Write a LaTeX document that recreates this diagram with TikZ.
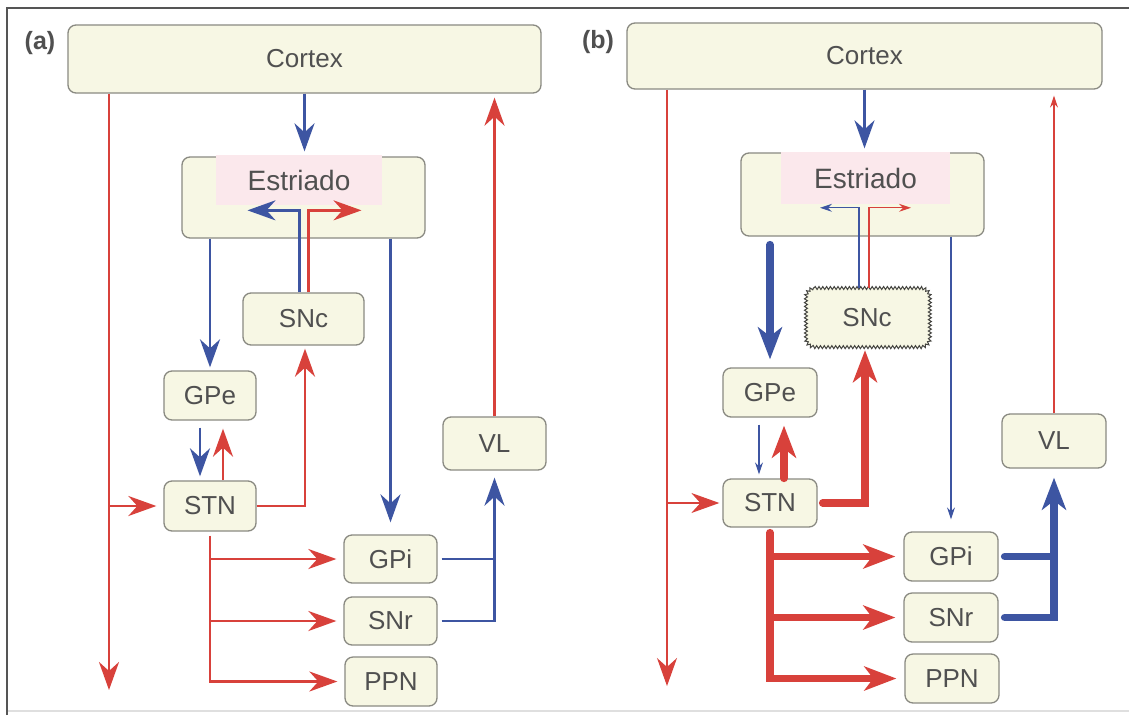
\documentclass[tikz,border=0pt]{standalone}
\usepackage{fontspec}
\setmainfont{Liberation Sans}
\usetikzlibrary{arrows.meta,decorations.pathmorphing}
\definecolor{redc}{HTML}{D8413B}
\definecolor{bluec}{HTML}{3D55A2}
\definecolor{boxf}{HTML}{F7F7E4}
\definecolor{boxd}{HTML}{8A8A82}
\definecolor{txtc}{HTML}{505050}
\definecolor{pinkf}{HTML}{FBE8EC}
\definecolor{framec}{HTML}{555555}
\begin{document}
\begin{tikzpicture}[x=1pt,y=-1pt,
  box/.style={draw=boxd, fill=boxf, line width=1.3pt, rounded corners=8pt, text=txtc,
    font=\fontsize{26}{30}\selectfont, inner sep=0pt},
  plainbox/.style={text=txtc, font=\fontsize{26}{30}\selectfont, inner sep=0pt},
  wavyline/.style={draw=boxd!50!black, fill=boxf, line width=1pt,
    decorate, decoration={snake, amplitude=1.5pt, segment length=3.8pt}},
  sz/.style 2 args={minimum width=#1pt, minimum height=#2pt},
  pinklbl/.style={fill=pinkf, inner sep=0pt, text=txtc, font=\fontsize{28}{32}\selectfont},
  panellbl/.style={text=txtc, font=\bfseries\fontsize{25}{30}\selectfont, inner sep=0pt},
  rd/.style={draw=redc}, bl/.style={draw=bluec},
  wN/.style={line width=2.8pt},
  wT/.style={line width=1.2pt},
  wK/.style={line width=7.5pt, line cap=round},
  hN/.style={-{Stealth[length=28pt,width=20pt,inset=9pt]}},
  hT/.style={-{Stealth[length=12pt,width=8pt,inset=4pt]}},
  hK/.style={-{Stealth[length=32pt,width=24pt,inset=9pt]}}
]
\useasboundingbox (0,0) rectangle (1129,715);
\fill[white] (0,0) rectangle (1129,715);
% frame
\draw[framec, line width=2pt] (7,715) -- (7,8) -- (1129,8);
\draw[gray!25, line width=1.5pt] (8,711) -- (1129,711);

% ===== panel (a) =====
\node[panellbl] (labA) at (40,43) {(a)};
\node[box,sz={473}{68}] (cortexA) at (304.5,59) {Cortex};
\node[box,sz={243}{81}] (estA) at (303.5,197.5) {};
\node[pinklbl,minimum width=166pt,minimum height=50pt] (estAl) at (299,180) {Estriado};
\node[box,sz={121}{52}] (sncA) at (303.5,319) {SNc};
\node[box,sz={92}{49}] (gpeA) at (210,395.5) {GPe};
\node[box,sz={92}{50}] (stnA) at (210,506) {STN};
\node[box,sz={93}{48}] (gpiA) at (390.5,559) {GPi};
\node[box,sz={93}{48}] (snrA) at (390.5,621) {SNr};
\node[box,sz={92}{49}] (ppnA) at (391,681.5) {PPN};
\node[box,sz={103}{53}] (vlA) at (494.5,443.5) {VL};
\coordinate (lA) at (109,690);

\draw[bl,wN,hN,shorten >=5pt] (cortexA.south) -- (cortexA.south |- estA.north);
\draw[rd,wN,hN] (cortexA.south -| lA) -- (lA);
\draw[rd,wN,hN,shorten >=7pt] (lA |- stnA.west) -- (stnA.west);
\draw[rd,wN,hN,shorten >=4pt] (vlA.north) -- (vlA.north |- cortexA.south);
\draw[bl,wN,hN,shorten >=3pt] (estA.south -| gpeA.north) -- (gpeA.north);
\draw[bl,wN,hN,shorten >=12pt] (estA.south -| gpiA.north) -- (gpiA.north);
\draw[bl,wN,hN] ([xshift=-4pt]sncA.north) -- ++(0,-82) -- ++(-52,0);
\draw[rd,wN,hN] ([xshift=5pt]sncA.north) -- ++(0,-82) -- ++(53,0);
\draw[bl,wN,hN,shorten <=7pt,shorten >=4pt] ([xshift=-10pt]gpeA.south) -- ([xshift=-10pt]stnA.north);
\draw[rd,wN,hN,shorten >=8pt] ([xshift=13pt]stnA.north) -- ([xshift=13pt]gpeA.south);
\draw[rd,wN,hN,shorten >=3pt] (stnA.east) -| ([xshift=1.5pt]sncA.south);
\draw[rd,wN,hN,shorten <=4pt,shorten >=7pt] (stnA.south) |- (ppnA.west);
\draw[rd,wN,hN,shorten >=7pt] (stnA.south |- gpiA.west) -- (gpiA.west);
\draw[rd,wN,hN,shorten >=7pt] (stnA.south |- snrA.west) -- (snrA.west);
\draw[bl,wN,shorten <=4pt] (gpiA.east) -- (gpiA.east -| vlA.south);
\draw[bl,wN,hN,shorten <=4pt,shorten >=7pt] (snrA.east) -| (vlA.south);

% ===== panel (b) =====
\node[panellbl] (labB) at (598,42) {(b)};
\node[box,sz={475}{66}] (cortexB) at (864.5,56) {Cortex};
\node[box,sz={243}{83}] (estB) at (862.5,194.5) {};
\node[pinklbl,minimum width=169pt,minimum height=52pt] (estBl) at (865.5,178) {Estriado};
% wavy SNc outline (x 805..929, y 288..347)
\path[wavyline] (814,288) -- (920,288) .. controls (925,288) and (929,292) .. (929,297)
  -- (929,338) .. controls (929,343) and (925,347) .. (920,347)
  -- (814,347) .. controls (809,347) and (805,343) .. (805,338)
  -- (805,297) .. controls (805,292) and (809,288) .. (814,288) -- cycle;
\node[plainbox,sz={124}{59}] (sncB) at (867,317.5) {SNc};
\node[box,sz={94}{49}] (gpeB) at (770,392.5) {GPe};
\node[box,sz={94}{48}] (stnB) at (770,503) {STN};
\node[box,sz={94}{49}] (gpiB) at (951,556.5) {GPi};
\node[box,sz={94}{49}] (snrB) at (951,617.5) {SNr};
\node[box,sz={94}{49}] (ppnB) at (952,678.5) {PPN};
\node[box,sz={104}{54}] (vlB) at (1054,441) {VL};
\coordinate (lB) at (667,686);

\draw[bl,wN,hN,shorten >=4pt] (cortexB.south) -- (cortexB.south |- estB.north);
\draw[rd,wT,hN] (cortexB.south -| lB) -- (lB);
\draw[rd,wT,hN,shorten >=3pt] (lB |- stnB.west) -- (stnB.west);
\draw[rd,wT,hT,shorten >=6pt] (vlB.north) -- (vlB.north |- cortexB.south);
\draw[bl,wK,hK,shorten <=8pt,shorten >=8pt] (estB.south -| gpeB.north) -- (gpeB.north);
\draw[bl,wT,hT,shorten >=12pt] (estB.south -| gpiB.north) -- (gpiB.north);
\draw[bl,wT,hT] ([xshift=-8pt]sncB.north) -- ++(0,-80) -- ++(-39,0);
\draw[rd,wT,hT] ([xshift=2pt]sncB.north) -- ++(0,-80) -- ++(42,0);
\draw[bl,wT,hT,shorten <=7pt,shorten >=4pt] ([xshift=-11pt]gpeB.south) -- ([xshift=-11pt]stnB.north);
\draw[rd,wK,hK,shorten >=8pt] ([xshift=14pt]stnB.north) -- ([xshift=14pt]gpeB.south);
\draw[rd,wK,hK,shorten <=5pt,shorten >=3pt] (stnB.east) -| ([xshift=-2pt]sncB.south);
\draw[rd,wK,hK,shorten <=5pt,shorten >=8pt] (stnB.south) |- (ppnB.west);
\draw[rd,wK,hK,shorten >=8pt] (stnB.south |- gpiB.west) -- (gpiB.west);
\draw[rd,wK,hK,shorten >=8pt] (stnB.south |- snrB.west) -- (snrB.west);
\draw[bl,wK,shorten <=6pt] (gpiB.east) -- (gpiB.east -| vlB.south);
\draw[bl,wK,hK,shorten <=6pt,shorten >=9pt] (snrB.east) -| (vlB.south);
\end{tikzpicture}
\end{document}
